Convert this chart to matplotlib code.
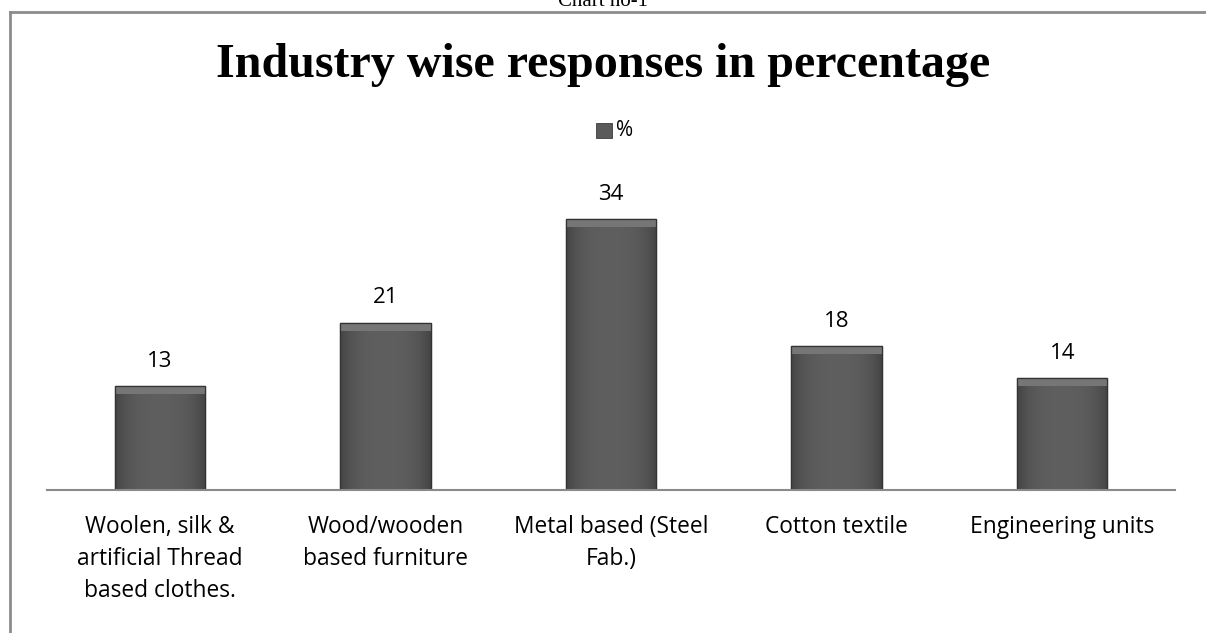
import numpy as np
import matplotlib
matplotlib.use("Agg")
import matplotlib.pyplot as plt
from matplotlib.lines import Line2D

categories = ["Woolen, silk &\nartificial Thread\nbased clothes.",
              "Wood/wooden\nbased furniture",
              "Metal based (Steel\nFab.)",
              "Cotton textile",
              "Engineering units"]
values = [13, 21, 34, 18, 14]
series_name = "%"
title = "Industry wise responses in percentage"
caption = "Chart no-1"

fig = plt.figure(figsize=(12.06, 6.33), dpi=100)
fig.patch.set_facecolor("white")

# outer frame lines
fig.add_artist(Line2D([10/1206, 10/1206], [0, 1 - 12/633], transform=fig.transFigure,
                      color="#8c8c8c", lw=2))
fig.add_artist(Line2D([10/1206, 1], [1 - 12/633, 1 - 12/633], transform=fig.transFigure,
                      color="#8c8c8c", lw=2))
fig.text(0.5, 1 - 2/633, caption, ha="center", va="center", fontsize=15,
         family="Liberation Serif", color="black")

ax = fig.add_axes([47/1206, (633-490)/633, 1128/1206, 319/633])
x = np.arange(len(values))
bars = ax.bar(x, values, width=0.4, color="#575757", edgecolor="#333333", linewidth=0.9,
              zorder=2)

# bevel-like gradient inside each bar (darker at sides, lighter in centre)
t = np.linspace(0, 1, 64)
prof = 1 - np.clip(np.abs(t - 0.5) * 2, 0, 1) ** 3
lev = 0.27 + 0.10 * prof
img = np.dstack([np.tile(lev, (64, 1))] * 3)
for b in bars:
    x0, w, h = b.get_x(), b.get_width(), b.get_height()
    im = ax.imshow(img, extent=[x0, x0 + w, 0, h], aspect="auto", zorder=3,
                   interpolation="bilinear")
    im.set_clip_path(b)
    # lighter top bevel
    ax.bar(x0 + w/2, 1.0, bottom=h - 1.0, width=w, color="#767676", zorder=4,
           linewidth=0)
    ax.bar(x0 + w/2, h, width=w, fill=False, edgecolor="#333333", linewidth=0.9, zorder=5)

for xi, v in zip(x, values):
    ax.text(xi, v + 3.1, str(v), ha="center", va="center", fontsize=16,
            family="Open Sans", color="black")

ax.set_xlim(-0.5, 4.5)
ax.set_ylim(0, 40)
ax.set_xticks(x)
ax.set_xticklabels(categories, fontsize=16.4, family="Open Sans", linespacing=1.45)
ax.tick_params(axis="x", length=0, pad=18)
ax.set_yticks([])
for s in ["top", "right", "left"]:
    ax.spines[s].set_visible(False)
ax.spines["bottom"].set_color("#8a8a8a")
ax.spines["bottom"].set_linewidth(1.5)
ax.spines["bottom"].set_zorder(6)

fig.text(0.5, 1 - 77/633, title, ha="center", va="baseline", fontsize=34.6,
         fontweight="bold", family="Liberation Serif")

# legend
fig.patches.append(matplotlib.patches.Rectangle((596/1206, 1 - 138/633), 16/1206, 15/633,
                   transform=fig.transFigure, facecolor="#5a5a5a", edgecolor="#3c3c3c",
                   lw=0.6))
fig.text(616/1206, 1 - 130/633, series_name, ha="left", va="center", fontsize=15,
         family="Open Sans")

fig.savefig("out.png", dpi=100)
